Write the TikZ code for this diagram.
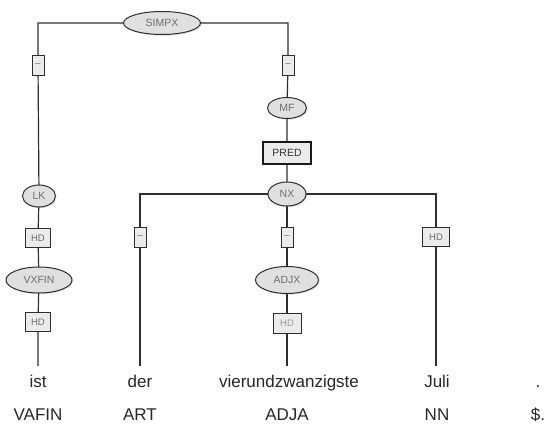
\documentclass[tikz,border=0pt]{standalone}
\usepackage{fontspec}
\setmainfont{Liberation Sans}
\usepackage{tikz}
\usetikzlibrary{shapes.geometric,shadows,backgrounds}

\definecolor{linegray}{HTML}{2E2E2E}
\definecolor{fillgray}{HTML}{E0E0E0}
\definecolor{boxgray}{HTML}{EBEBEB}
\definecolor{labelgray}{HTML}{6E6E6E}

\begin{document}
\begin{tikzpicture}[x=1pt,y=-1pt,
    cat/.style={ellipse, draw=linegray, line width=1pt, fill=fillgray, inner sep=0pt,
      text=labelgray, font=\fontsize{10.5}{12}\selectfont,
      drop shadow={shadow xshift=1pt, shadow yshift=-1.2pt, opacity=0.25}},
    func/.style={rectangle, draw=linegray, line width=1pt, fill=boxgray, inner sep=0pt,
      minimum width=25pt, minimum height=19pt, text=labelgray, font=\fontsize{9.5}{11}\selectfont,
      drop shadow={shadow xshift=0.8pt, shadow yshift=-0.8pt, opacity=0.25}},
    nolabel/.style={func, minimum width=12pt, minimum height=20pt},
    word/.style={anchor=base, inner ysep=9pt, text height=12pt, text depth=3pt,
      font=\fontsize{17}{20}\selectfont, text=black!85},
    tag/.style={anchor=base, inner sep=0pt, font=\fontsize{17}{20}\selectfont, text=black!85},
    edge/.style={draw=linegray, line width=1.2pt}]
  \useasboundingbox (0,0) rectangle (545,423);

  % syntactic nodes
  \node[cat, minimum width=77pt, minimum height=23pt] (simpx) at (162,23) {SIMPX};
  \node[nolabel] (e1) at (38,65) {--};
  \node[nolabel] (e2) at (288,65) {--};
  \node[cat, minimum width=39pt, minimum height=21pt] (mf) at (287,108) {MF};
  \node[func, minimum width=48pt, minimum height=22pt, draw=black!90, line width=1.3pt,
    text=black!80, font=\fontsize{10.5}{12}\selectfont] (pred) at (287,153) {PRED};
  \node[cat, minimum width=38pt, minimum height=24pt] (nx) at (287,194) {NX};
  \node[cat, minimum width=33pt, minimum height=22pt] (lk) at (39,196) {LK};
  \node[func] (hd1) at (38,238) {HD};
  \node[cat, minimum width=66pt, minimum height=26pt] (vxfin) at (39,280) {VXFIN};
  \node[func] (hd2) at (38,322) {HD};
  \node[nolabel] (e3) at (140,237) {--};
  \node[nolabel] (e4) at (287,237) {--};
  \node[cat, minimum width=63pt, minimum height=27pt] (adjx) at (287,280) {ADJX};
  \node[func, minimum width=28pt, minimum height=20pt, text=labelgray!70] (hd3) at (287,323) {HD};
  \node[func, minimum width=27pt] (hd4) at (436,237) {HD};

  % terminals
  \node[word] (ist) at (38,387) {ist};
  \node[word] (der) at (140,387) {der};
  \node[word] (vier) at (289,387) {vierundzwanzigste};
  \node[word] (juli) at (437,387) {Juli};
  \node[word] (punct) at (538,387) {.};

  % part-of-speech tags
  \node[tag] (vafin) at (38,420) {VAFIN};
  \node[tag] (art) at (140,420) {ART};
  \node[tag] (adja) at (287,420) {ADJA};
  \node[tag] (nn) at (437,420) {NN};
  \node[tag] (dollar) at (538,420) {\$.};

  \begin{scope}[on background layer]
    \draw[edge] (simpx.center) -| (e1.center) -- (lk.center) -- (hd1.center)
      -- (vxfin.center) -- (hd2.center) -- (ist.north);
    \draw[edge] (simpx.center) -| (e2.center) -- (mf.center) -- (pred.center) -- (nx.center);
    \draw[edge] (e3.center) |- (nx.center) -| (hd4.center);
    \draw[edge] (e3.center) -- (der.north);
    \draw[edge] (nx.center) -- (e4.center) -- (adjx.center) -- (hd3.center) -- (e4.center |- vier.north);
    \draw[edge] (hd4.center) -- (hd4.center |- juli.north);
  \end{scope}
\end{tikzpicture}
\end{document}
